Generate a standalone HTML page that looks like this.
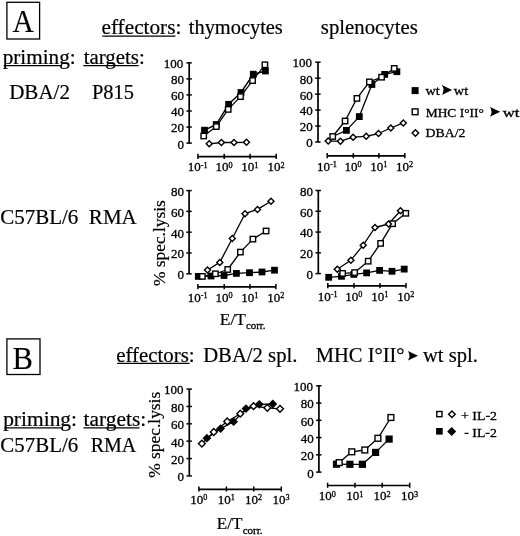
<!DOCTYPE html>
<html><head><meta charset="utf-8"><style>
html,body{margin:0;padding:0;background:#fff;overflow:hidden;}
svg{display:block;filter:blur(0.35px);}
text{font-family:"Liberation Serif", serif;fill:#000;}
.sm{stroke:#000;stroke-width:0.3px;}
.md{stroke:#000;stroke-width:0.2px;}
.lg{stroke:#000;stroke-width:0.15px;}
</style></head><body>
<svg width="520" height="536" viewBox="0 0 520 536">
<rect width="520" height="536" fill="#fff"/>
<text class="lg" x="12.50" y="31.7" font-size="30.7" textLength="21.37" lengthAdjust="spacingAndGlyphs">A</text>
<text class="lg" x="12.50" y="368.7" font-size="30.6" textLength="20.41" lengthAdjust="spacingAndGlyphs">B</text>
<text class="md" x="101.46" y="34.1" font-size="20.5" textLength="79.95" lengthAdjust="spacingAndGlyphs">effectors:</text>
<text class="md" x="188.80" y="33.9" font-size="20.5" textLength="94.01" lengthAdjust="spacingAndGlyphs">thymocytes</text>
<text class="md" x="320.89" y="33.9" font-size="20.5" textLength="96.88" lengthAdjust="spacingAndGlyphs">splenocytes</text>
<text class="md" x="2.67" y="64.0" font-size="20.5" textLength="73.00" lengthAdjust="spacingAndGlyphs">priming:</text>
<text class="md" x="83.70" y="64.0" font-size="20.5" textLength="61.11" lengthAdjust="spacingAndGlyphs">targets:</text>
<text class="md" x="9.17" y="98.8" font-size="20.5" textLength="60.79" lengthAdjust="spacingAndGlyphs">DBA/2</text>
<text class="md" x="91.90" y="98.8" font-size="20.5" textLength="42.05" lengthAdjust="spacingAndGlyphs">P815</text>
<text class="md" x="0.28" y="224.4" font-size="20.5" textLength="78.06" lengthAdjust="spacingAndGlyphs">C57BL/6</text>
<text class="md" x="88.88" y="224.4" font-size="20.5" textLength="47.86" lengthAdjust="spacingAndGlyphs">RMA</text>
<text class="md" x="116.18" y="361.7" font-size="20.5" textLength="78.38" lengthAdjust="spacingAndGlyphs">effectors:</text>
<text class="md" x="203.19" y="361.9" font-size="20.5" textLength="94.23" lengthAdjust="spacingAndGlyphs">DBA/2 spl.</text>
<text class="md" x="315.80" y="361.9" font-size="20.5" textLength="88.72" lengthAdjust="spacingAndGlyphs">MHC I°II°</text>
<text class="md" x="423.00" y="361.9" font-size="20.5" textLength="54.89" lengthAdjust="spacingAndGlyphs">wt spl.</text>
<text class="md" x="3.15" y="426.0" font-size="20.5" textLength="73.93" lengthAdjust="spacingAndGlyphs">priming:</text>
<text class="md" x="83.60" y="426.0" font-size="20.5" textLength="62.66" lengthAdjust="spacingAndGlyphs">targets:</text>
<text class="md" x="0.38" y="451.7" font-size="20.5" textLength="77.85" lengthAdjust="spacingAndGlyphs">C57BL/6</text>
<text class="md" x="90.72" y="451.7" font-size="20.5" textLength="45.58" lengthAdjust="spacingAndGlyphs">RMA</text>
<text class="sm" x="425.54" y="94.6" font-size="13.5" textLength="14.29" lengthAdjust="spacingAndGlyphs">wt</text>
<text class="sm" x="453.84" y="94.6" font-size="13.5" textLength="14.29" lengthAdjust="spacingAndGlyphs">wt</text>
<text class="sm" x="425.70" y="116.8" font-size="13.5" textLength="58.22" lengthAdjust="spacingAndGlyphs">MHC I°II°</text>
<text class="sm" x="502.66" y="116.8" font-size="13.5" textLength="16.76" lengthAdjust="spacingAndGlyphs">wt</text>
<text class="sm" x="425.58" y="137.1" font-size="13.5" textLength="39.86" lengthAdjust="spacingAndGlyphs">DBA/2</text>
<text class="sm" x="460.97" y="419.8" font-size="13.5" textLength="36.04" lengthAdjust="spacingAndGlyphs">+ IL-2</text>
<text class="sm" x="464.28" y="437.4" font-size="13.5" textLength="32.60" lengthAdjust="spacingAndGlyphs">- IL-2</text>
<text class="md" x="219.80" y="324.7" font-size="17.5" textLength="26.14" lengthAdjust="spacingAndGlyphs">E/T</text>
<text class="sm" x="245.90" y="329.2" font-size="11" textLength="19.65" lengthAdjust="spacingAndGlyphs">corr.</text>
<text class="md" x="216.82" y="529.0" font-size="17.5" textLength="25.62" lengthAdjust="spacingAndGlyphs">E/T</text>
<text class="sm" x="242.70" y="533.8" font-size="11" textLength="19.86" lengthAdjust="spacingAndGlyphs">corr.</text>
<text class="md" transform="translate(165.0,286.09) rotate(-90)" x="0" y="0" font-size="17.5" textLength="85.92" lengthAdjust="spacingAndGlyphs">% spec.lysis</text>
<text class="md" transform="translate(160.3,477.79) rotate(-90)" x="0" y="0" font-size="17.5" textLength="86.02" lengthAdjust="spacingAndGlyphs">% spec.lysis</text>
<line x1="102.30" y1="36.10" x2="175.40" y2="36.10" stroke="#000" stroke-width="1.2"/>
<line x1="3.70" y1="65.60" x2="62.00" y2="65.60" stroke="#000" stroke-width="1.2"/>
<line x1="83.30" y1="65.60" x2="138.70" y2="65.60" stroke="#000" stroke-width="1.2"/>
<line x1="117.20" y1="363.40" x2="189.50" y2="363.40" stroke="#000" stroke-width="1.2"/>
<line x1="4.20" y1="427.80" x2="63.00" y2="427.80" stroke="#000" stroke-width="1.2"/>
<line x1="83.50" y1="427.80" x2="139.50" y2="427.80" stroke="#000" stroke-width="1.2"/>
<rect x="6.9" y="2.3" width="32.70" height="36.70" fill="none" stroke="#000" stroke-width="1.3"/>
<rect x="6.9" y="338.9" width="33.10" height="35.60" fill="none" stroke="#000" stroke-width="1.3"/>
<path d="M407.90,350.90 L418.00,355.75 L407.90,360.60 Q411.13,355.75 407.90,350.90 Z" fill="#000"/>
<path d="M441.80,85.00 L452.10,90.00 L441.80,95.00 Q445.10,90.00 441.80,85.00 Z" fill="#000"/>
<path d="M489.90,106.90 L500.30,111.80 L489.90,116.70 Q493.23,111.80 489.90,106.90 Z" fill="#000"/>
<line x1="189.20" y1="62.85" x2="189.20" y2="143.10" stroke="#000" stroke-width="1.7"/>
<line x1="186.40" y1="143.10" x2="191.80" y2="143.10" stroke="#000" stroke-width="1.5"/>
<text class="sm" x="184.00" y="148.50" font-size="13" text-anchor="end">0</text>
<line x1="186.40" y1="127.05" x2="191.80" y2="127.05" stroke="#000" stroke-width="1.5"/>
<text class="sm" x="184.00" y="132.45" font-size="13" text-anchor="end">20</text>
<line x1="186.40" y1="111.00" x2="191.80" y2="111.00" stroke="#000" stroke-width="1.5"/>
<text class="sm" x="184.00" y="116.40" font-size="13" text-anchor="end">40</text>
<line x1="186.40" y1="94.95" x2="191.80" y2="94.95" stroke="#000" stroke-width="1.5"/>
<text class="sm" x="184.00" y="100.35" font-size="13" text-anchor="end">60</text>
<line x1="186.40" y1="78.90" x2="191.80" y2="78.90" stroke="#000" stroke-width="1.5"/>
<text class="sm" x="184.00" y="84.30" font-size="13" text-anchor="end">80</text>
<line x1="186.40" y1="62.85" x2="191.80" y2="62.85" stroke="#000" stroke-width="1.5"/>
<text class="sm" x="183.30" y="67.75" font-size="13" text-anchor="end">100</text>
<line x1="197.90" y1="156.60" x2="276.20" y2="156.60" stroke="#000" stroke-width="1.7"/>
<line x1="197.90" y1="153.80" x2="197.90" y2="158.90" stroke="#000" stroke-width="1.5"/>
<text class="sm" x="197.70" y="171.40" font-size="13" text-anchor="middle">10<tspan font-size="8.2" dy="-3.8">-1</tspan></text>
<line x1="224.20" y1="153.80" x2="224.20" y2="158.90" stroke="#000" stroke-width="1.5"/>
<text class="sm" x="224.00" y="171.40" font-size="13" text-anchor="middle">10<tspan font-size="8.2" dy="-3.8">0</tspan></text>
<line x1="250.10" y1="153.80" x2="250.10" y2="158.90" stroke="#000" stroke-width="1.5"/>
<text class="sm" x="249.90" y="171.40" font-size="13" text-anchor="middle">10<tspan font-size="8.2" dy="-3.8">1</tspan></text>
<line x1="276.20" y1="153.80" x2="276.20" y2="158.90" stroke="#000" stroke-width="1.5"/>
<text class="sm" x="276.00" y="171.40" font-size="13" text-anchor="middle">10<tspan font-size="8.2" dy="-3.8">2</tspan></text>
<path d="M204.5,130.2 L216.3,124.5 L228.6,104.3 L241,92.5 L253.3,74.2 L265.4,71" fill="none" stroke="#000" stroke-width="1.4" stroke-linejoin="round"/>
<path d="M203.7,136 L216.3,126.6 L228.2,109.4 L240.5,96.6 L252.6,80.6 L264.9,64.8" fill="none" stroke="#000" stroke-width="1.2" stroke-linejoin="round"/>
<path d="M209.2,143.8 L221.4,142.5 L234,142.5 L246.5,142.3" fill="none" stroke="#000" stroke-width="1.3" stroke-linejoin="round"/>
<rect x="201.10" y="126.80" width="6.8" height="6.8" fill="#000"/>
<rect x="212.90" y="121.10" width="6.8" height="6.8" fill="#000"/>
<rect x="225.20" y="100.90" width="6.8" height="6.8" fill="#000"/>
<rect x="237.60" y="89.10" width="6.8" height="6.8" fill="#000"/>
<rect x="249.90" y="70.80" width="6.8" height="6.8" fill="#000"/>
<rect x="262.00" y="67.60" width="6.8" height="6.8" fill="#000"/>
<rect x="201.00" y="133.30" width="5.40" height="5.40" fill="#fff" stroke="#000" stroke-width="1.4"/>
<rect x="213.60" y="123.90" width="5.40" height="5.40" fill="#fff" stroke="#000" stroke-width="1.4"/>
<rect x="225.50" y="106.70" width="5.40" height="5.40" fill="#fff" stroke="#000" stroke-width="1.4"/>
<rect x="237.80" y="93.90" width="5.40" height="5.40" fill="#fff" stroke="#000" stroke-width="1.4"/>
<rect x="249.90" y="77.90" width="5.40" height="5.40" fill="#fff" stroke="#000" stroke-width="1.4"/>
<rect x="262.20" y="62.10" width="5.40" height="5.40" fill="#fff" stroke="#000" stroke-width="1.4"/>
<path d="M209.20,140.79 L212.21,143.80 L209.20,146.81 L206.19,143.80 Z" fill="#fff" stroke="#000" stroke-width="1.4"/>
<path d="M221.40,139.49 L224.41,142.50 L221.40,145.51 L218.39,142.50 Z" fill="#fff" stroke="#000" stroke-width="1.4"/>
<path d="M234.00,139.49 L237.01,142.50 L234.00,145.51 L230.99,142.50 Z" fill="#fff" stroke="#000" stroke-width="1.4"/>
<path d="M246.50,139.29 L249.51,142.30 L246.50,145.31 L243.49,142.30 Z" fill="#fff" stroke="#000" stroke-width="1.4"/>
<line x1="318.00" y1="62.20" x2="318.00" y2="142.00" stroke="#000" stroke-width="1.7"/>
<line x1="315.20" y1="142.00" x2="320.60" y2="142.00" stroke="#000" stroke-width="1.5"/>
<text class="sm" x="312.80" y="147.40" font-size="13" text-anchor="end">0</text>
<line x1="315.20" y1="126.04" x2="320.60" y2="126.04" stroke="#000" stroke-width="1.5"/>
<text class="sm" x="312.80" y="131.44" font-size="13" text-anchor="end">20</text>
<line x1="315.20" y1="110.08" x2="320.60" y2="110.08" stroke="#000" stroke-width="1.5"/>
<text class="sm" x="312.80" y="115.48" font-size="13" text-anchor="end">40</text>
<line x1="315.20" y1="94.12" x2="320.60" y2="94.12" stroke="#000" stroke-width="1.5"/>
<text class="sm" x="312.80" y="99.52" font-size="13" text-anchor="end">60</text>
<line x1="315.20" y1="78.16" x2="320.60" y2="78.16" stroke="#000" stroke-width="1.5"/>
<text class="sm" x="312.80" y="83.56" font-size="13" text-anchor="end">80</text>
<line x1="315.20" y1="62.20" x2="320.60" y2="62.20" stroke="#000" stroke-width="1.5"/>
<text class="sm" x="312.10" y="67.10" font-size="13" text-anchor="end">100</text>
<line x1="327.20" y1="155.90" x2="404.80" y2="155.90" stroke="#000" stroke-width="1.7"/>
<line x1="327.20" y1="153.10" x2="327.20" y2="158.20" stroke="#000" stroke-width="1.5"/>
<text class="sm" x="327.00" y="170.70" font-size="13" text-anchor="middle">10<tspan font-size="8.2" dy="-3.8">-1</tspan></text>
<line x1="353.30" y1="153.10" x2="353.30" y2="158.20" stroke="#000" stroke-width="1.5"/>
<text class="sm" x="353.10" y="170.70" font-size="13" text-anchor="middle">10<tspan font-size="8.2" dy="-3.8">0</tspan></text>
<line x1="378.90" y1="153.10" x2="378.90" y2="158.20" stroke="#000" stroke-width="1.5"/>
<text class="sm" x="378.70" y="170.70" font-size="13" text-anchor="middle">10<tspan font-size="8.2" dy="-3.8">1</tspan></text>
<line x1="404.80" y1="153.10" x2="404.80" y2="158.20" stroke="#000" stroke-width="1.5"/>
<text class="sm" x="404.60" y="170.70" font-size="13" text-anchor="middle">10<tspan font-size="8.2" dy="-3.8">2</tspan></text>
<path d="M332.7,136.5 L346.4,130.4 L359.3,116.6 L371.9,84.5 L384.7,74.4 L396.9,71.7" fill="none" stroke="#000" stroke-width="1.3" stroke-linejoin="round"/>
<path d="M332.7,136.5 L345.1,121 L356.9,98.4 L369.4,81.9 L381.6,77.2 L394.2,68.4" fill="none" stroke="#000" stroke-width="1.3" stroke-linejoin="round"/>
<path d="M328.2,141.1 L340.4,141.2 L353.1,137.2 L366.2,136.3 L378.5,133.5 L390.8,128 L403.3,122.9" fill="none" stroke="#000" stroke-width="1.3" stroke-linejoin="round"/>
<rect x="343.00" y="127.00" width="6.8" height="6.8" fill="#000"/>
<rect x="355.90" y="113.20" width="6.8" height="6.8" fill="#000"/>
<rect x="368.50" y="81.10" width="6.8" height="6.8" fill="#000"/>
<rect x="381.30" y="71.00" width="6.8" height="6.8" fill="#000"/>
<rect x="393.50" y="68.30" width="6.8" height="6.8" fill="#000"/>
<rect x="330.00" y="133.80" width="5.40" height="5.40" fill="#fff" stroke="#000" stroke-width="1.4"/>
<rect x="342.40" y="118.30" width="5.40" height="5.40" fill="#fff" stroke="#000" stroke-width="1.4"/>
<rect x="354.20" y="95.70" width="5.40" height="5.40" fill="#fff" stroke="#000" stroke-width="1.4"/>
<rect x="366.70" y="79.20" width="5.40" height="5.40" fill="#fff" stroke="#000" stroke-width="1.4"/>
<rect x="378.90" y="74.50" width="5.40" height="5.40" fill="#fff" stroke="#000" stroke-width="1.4"/>
<rect x="391.50" y="65.70" width="5.40" height="5.40" fill="#fff" stroke="#000" stroke-width="1.4"/>
<path d="M328.20,138.09 L331.21,141.10 L328.20,144.11 L325.19,141.10 Z" fill="#fff" stroke="#000" stroke-width="1.4"/>
<path d="M340.40,138.19 L343.41,141.20 L340.40,144.21 L337.39,141.20 Z" fill="#fff" stroke="#000" stroke-width="1.4"/>
<path d="M353.10,134.19 L356.11,137.20 L353.10,140.21 L350.09,137.20 Z" fill="#fff" stroke="#000" stroke-width="1.4"/>
<path d="M366.20,133.29 L369.21,136.30 L366.20,139.31 L363.19,136.30 Z" fill="#fff" stroke="#000" stroke-width="1.4"/>
<path d="M378.50,130.49 L381.51,133.50 L378.50,136.51 L375.49,133.50 Z" fill="#fff" stroke="#000" stroke-width="1.4"/>
<path d="M390.80,124.99 L393.81,128.00 L390.80,131.01 L387.79,128.00 Z" fill="#fff" stroke="#000" stroke-width="1.4"/>
<path d="M403.30,119.89 L406.31,122.90 L403.30,125.91 L400.29,122.90 Z" fill="#fff" stroke="#000" stroke-width="1.4"/>
<rect x="411.60" y="87.10" width="7.0" height="7.0" fill="#000"/>
<rect x="412.20" y="108.90" width="5.80" height="5.80" fill="#fff" stroke="#000" stroke-width="1.4"/>
<path d="M415.40,129.69 L418.71,133.00 L415.40,136.31 L412.09,133.00 Z" fill="#fff" stroke="#000" stroke-width="1.4"/>
<line x1="189.10" y1="190.60" x2="189.10" y2="273.80" stroke="#000" stroke-width="1.7"/>
<line x1="186.30" y1="273.80" x2="191.70" y2="273.80" stroke="#000" stroke-width="1.5"/>
<text class="sm" x="183.90" y="279.20" font-size="13" text-anchor="end">0</text>
<line x1="186.30" y1="253.00" x2="191.70" y2="253.00" stroke="#000" stroke-width="1.5"/>
<text class="sm" x="183.90" y="258.40" font-size="13" text-anchor="end">20</text>
<line x1="186.30" y1="232.20" x2="191.70" y2="232.20" stroke="#000" stroke-width="1.5"/>
<text class="sm" x="183.90" y="237.60" font-size="13" text-anchor="end">40</text>
<line x1="186.30" y1="211.40" x2="191.70" y2="211.40" stroke="#000" stroke-width="1.5"/>
<text class="sm" x="183.90" y="216.80" font-size="13" text-anchor="end">60</text>
<line x1="186.30" y1="190.60" x2="191.70" y2="190.60" stroke="#000" stroke-width="1.5"/>
<text class="sm" x="183.90" y="196.00" font-size="13" text-anchor="end">80</text>
<line x1="197.90" y1="286.90" x2="275.90" y2="286.90" stroke="#000" stroke-width="1.7"/>
<line x1="197.90" y1="284.10" x2="197.90" y2="289.20" stroke="#000" stroke-width="1.5"/>
<text class="sm" x="197.70" y="301.70" font-size="13" text-anchor="middle">10<tspan font-size="8.2" dy="-3.8">-1</tspan></text>
<line x1="224.20" y1="284.10" x2="224.20" y2="289.20" stroke="#000" stroke-width="1.5"/>
<text class="sm" x="224.00" y="301.70" font-size="13" text-anchor="middle">10<tspan font-size="8.2" dy="-3.8">0</tspan></text>
<line x1="250.00" y1="284.10" x2="250.00" y2="289.20" stroke="#000" stroke-width="1.5"/>
<text class="sm" x="249.80" y="301.70" font-size="13" text-anchor="middle">10<tspan font-size="8.2" dy="-3.8">1</tspan></text>
<line x1="275.90" y1="284.10" x2="275.90" y2="289.20" stroke="#000" stroke-width="1.5"/>
<text class="sm" x="275.70" y="301.70" font-size="13" text-anchor="middle">10<tspan font-size="8.2" dy="-3.8">2</tspan></text>
<path d="M207.5,270 L219.8,262.4 L232.3,238.5 L245,213.7 L257.5,209.4 L271,201.3" fill="none" stroke="#000" stroke-width="1.3" stroke-linejoin="round"/>
<path d="M202.4,276.4 L215.4,273.8 L227.7,269.5 L240.4,252.1 L252.9,239.1 L266.1,231" fill="none" stroke="#000" stroke-width="1.3" stroke-linejoin="round"/>
<path d="M198.3,276.4 L211,276 L224,275.5 L236.4,273.4 L249.5,272.7 L262,272 L274.5,270.2" fill="none" stroke="#000" stroke-width="1.3" stroke-linejoin="round"/>
<rect x="194.90" y="273.00" width="6.8" height="6.8" fill="#000"/>
<rect x="207.60" y="272.60" width="6.8" height="6.8" fill="#000"/>
<rect x="220.60" y="272.10" width="6.8" height="6.8" fill="#000"/>
<rect x="233.00" y="270.00" width="6.8" height="6.8" fill="#000"/>
<rect x="246.10" y="269.30" width="6.8" height="6.8" fill="#000"/>
<rect x="258.60" y="268.60" width="6.8" height="6.8" fill="#000"/>
<rect x="271.10" y="266.80" width="6.8" height="6.8" fill="#000"/>
<rect x="199.70" y="273.70" width="5.40" height="5.40" fill="#fff" stroke="#000" stroke-width="1.4"/>
<rect x="212.70" y="271.10" width="5.40" height="5.40" fill="#fff" stroke="#000" stroke-width="1.4"/>
<rect x="225.00" y="266.80" width="5.40" height="5.40" fill="#fff" stroke="#000" stroke-width="1.4"/>
<rect x="237.70" y="249.40" width="5.40" height="5.40" fill="#fff" stroke="#000" stroke-width="1.4"/>
<rect x="250.20" y="236.40" width="5.40" height="5.40" fill="#fff" stroke="#000" stroke-width="1.4"/>
<rect x="263.40" y="228.30" width="5.40" height="5.40" fill="#fff" stroke="#000" stroke-width="1.4"/>
<path d="M207.50,266.99 L210.51,270.00 L207.50,273.01 L204.49,270.00 Z" fill="#fff" stroke="#000" stroke-width="1.4"/>
<path d="M219.80,259.39 L222.81,262.40 L219.80,265.41 L216.79,262.40 Z" fill="#fff" stroke="#000" stroke-width="1.4"/>
<path d="M232.30,235.49 L235.31,238.50 L232.30,241.51 L229.29,238.50 Z" fill="#fff" stroke="#000" stroke-width="1.4"/>
<path d="M245.00,210.69 L248.01,213.70 L245.00,216.71 L241.99,213.70 Z" fill="#fff" stroke="#000" stroke-width="1.4"/>
<path d="M257.50,206.39 L260.51,209.40 L257.50,212.41 L254.49,209.40 Z" fill="#fff" stroke="#000" stroke-width="1.4"/>
<path d="M271.00,198.29 L274.01,201.30 L271.00,204.31 L267.99,201.30 Z" fill="#fff" stroke="#000" stroke-width="1.4"/>
<line x1="318.30" y1="190.50" x2="318.30" y2="273.60" stroke="#000" stroke-width="1.7"/>
<line x1="315.50" y1="273.60" x2="320.90" y2="273.60" stroke="#000" stroke-width="1.5"/>
<text class="sm" x="313.10" y="279.00" font-size="13" text-anchor="end">0</text>
<line x1="315.50" y1="252.83" x2="320.90" y2="252.83" stroke="#000" stroke-width="1.5"/>
<text class="sm" x="313.10" y="258.23" font-size="13" text-anchor="end">20</text>
<line x1="315.50" y1="232.05" x2="320.90" y2="232.05" stroke="#000" stroke-width="1.5"/>
<text class="sm" x="313.10" y="237.45" font-size="13" text-anchor="end">40</text>
<line x1="315.50" y1="211.28" x2="320.90" y2="211.28" stroke="#000" stroke-width="1.5"/>
<text class="sm" x="313.10" y="216.67" font-size="13" text-anchor="end">60</text>
<line x1="315.50" y1="190.50" x2="320.90" y2="190.50" stroke="#000" stroke-width="1.5"/>
<text class="sm" x="313.10" y="195.90" font-size="13" text-anchor="end">80</text>
<line x1="327.80" y1="285.90" x2="406.00" y2="285.90" stroke="#000" stroke-width="1.7"/>
<line x1="327.80" y1="283.10" x2="327.80" y2="288.20" stroke="#000" stroke-width="1.5"/>
<text class="sm" x="327.60" y="300.70" font-size="13" text-anchor="middle">10<tspan font-size="8.2" dy="-3.8">-1</tspan></text>
<line x1="354.00" y1="283.10" x2="354.00" y2="288.20" stroke="#000" stroke-width="1.5"/>
<text class="sm" x="353.80" y="300.70" font-size="13" text-anchor="middle">10<tspan font-size="8.2" dy="-3.8">0</tspan></text>
<line x1="380.00" y1="283.10" x2="380.00" y2="288.20" stroke="#000" stroke-width="1.5"/>
<text class="sm" x="379.80" y="300.70" font-size="13" text-anchor="middle">10<tspan font-size="8.2" dy="-3.8">1</tspan></text>
<line x1="406.00" y1="283.10" x2="406.00" y2="288.20" stroke="#000" stroke-width="1.5"/>
<text class="sm" x="405.80" y="300.70" font-size="13" text-anchor="middle">10<tspan font-size="8.2" dy="-3.8">2</tspan></text>
<path d="M337.3,269.2 L350.9,260.2 L363.2,245.2 L375,227.5 L388.5,224 L400.5,210.7" fill="none" stroke="#000" stroke-width="1.3" stroke-linejoin="round"/>
<path d="M342.6,273.4 L354.6,272.6 L368.2,261.2 L380.6,243.4 L392.6,223.7 L405.8,213.3" fill="none" stroke="#000" stroke-width="1.3" stroke-linejoin="round"/>
<path d="M328.7,277.3 L341.5,276.3 L353.8,274.4 L366.6,272.9 L379.6,270.4 L392,271.3 L404.2,269.1" fill="none" stroke="#000" stroke-width="1.3" stroke-linejoin="round"/>
<rect x="325.30" y="273.90" width="6.8" height="6.8" fill="#000"/>
<rect x="338.10" y="272.90" width="6.8" height="6.8" fill="#000"/>
<rect x="350.40" y="271.00" width="6.8" height="6.8" fill="#000"/>
<rect x="363.20" y="269.50" width="6.8" height="6.8" fill="#000"/>
<rect x="376.20" y="267.00" width="6.8" height="6.8" fill="#000"/>
<rect x="388.60" y="267.90" width="6.8" height="6.8" fill="#000"/>
<rect x="400.80" y="265.70" width="6.8" height="6.8" fill="#000"/>
<rect x="339.90" y="270.70" width="5.40" height="5.40" fill="#fff" stroke="#000" stroke-width="1.4"/>
<rect x="351.90" y="269.90" width="5.40" height="5.40" fill="#fff" stroke="#000" stroke-width="1.4"/>
<rect x="365.50" y="258.50" width="5.40" height="5.40" fill="#fff" stroke="#000" stroke-width="1.4"/>
<rect x="377.90" y="240.70" width="5.40" height="5.40" fill="#fff" stroke="#000" stroke-width="1.4"/>
<rect x="389.90" y="221.00" width="5.40" height="5.40" fill="#fff" stroke="#000" stroke-width="1.4"/>
<rect x="403.10" y="210.60" width="5.40" height="5.40" fill="#fff" stroke="#000" stroke-width="1.4"/>
<path d="M337.30,266.19 L340.31,269.20 L337.30,272.21 L334.29,269.20 Z" fill="#fff" stroke="#000" stroke-width="1.4"/>
<path d="M350.90,257.19 L353.91,260.20 L350.90,263.21 L347.89,260.20 Z" fill="#fff" stroke="#000" stroke-width="1.4"/>
<path d="M363.20,242.19 L366.21,245.20 L363.20,248.21 L360.19,245.20 Z" fill="#fff" stroke="#000" stroke-width="1.4"/>
<path d="M375.00,224.49 L378.01,227.50 L375.00,230.51 L371.99,227.50 Z" fill="#fff" stroke="#000" stroke-width="1.4"/>
<path d="M388.50,220.99 L391.51,224.00 L388.50,227.01 L385.49,224.00 Z" fill="#fff" stroke="#000" stroke-width="1.4"/>
<path d="M400.50,207.69 L403.51,210.70 L400.50,213.71 L397.49,210.70 Z" fill="#fff" stroke="#000" stroke-width="1.4"/>
<line x1="189.30" y1="389.10" x2="189.30" y2="475.90" stroke="#000" stroke-width="1.7"/>
<line x1="186.50" y1="475.90" x2="191.90" y2="475.90" stroke="#000" stroke-width="1.5"/>
<text class="sm" x="184.10" y="481.30" font-size="13" text-anchor="end">0</text>
<line x1="186.50" y1="458.54" x2="191.90" y2="458.54" stroke="#000" stroke-width="1.5"/>
<text class="sm" x="184.10" y="463.94" font-size="13" text-anchor="end">20</text>
<line x1="186.50" y1="441.18" x2="191.90" y2="441.18" stroke="#000" stroke-width="1.5"/>
<text class="sm" x="184.10" y="446.58" font-size="13" text-anchor="end">40</text>
<line x1="186.50" y1="423.82" x2="191.90" y2="423.82" stroke="#000" stroke-width="1.5"/>
<text class="sm" x="184.10" y="429.22" font-size="13" text-anchor="end">60</text>
<line x1="186.50" y1="406.46" x2="191.90" y2="406.46" stroke="#000" stroke-width="1.5"/>
<text class="sm" x="184.10" y="411.86" font-size="13" text-anchor="end">80</text>
<line x1="186.50" y1="389.10" x2="191.90" y2="389.10" stroke="#000" stroke-width="1.5"/>
<text class="sm" x="183.40" y="394.00" font-size="13" text-anchor="end">100</text>
<line x1="198.90" y1="489.30" x2="281.30" y2="489.30" stroke="#000" stroke-width="1.7"/>
<line x1="198.90" y1="486.50" x2="198.90" y2="491.60" stroke="#000" stroke-width="1.5"/>
<text class="sm" x="198.70" y="504.10" font-size="13" text-anchor="middle">10<tspan font-size="8.2" dy="-3.8">0</tspan></text>
<line x1="226.40" y1="486.50" x2="226.40" y2="491.60" stroke="#000" stroke-width="1.5"/>
<text class="sm" x="226.20" y="504.10" font-size="13" text-anchor="middle">10<tspan font-size="8.2" dy="-3.8">1</tspan></text>
<line x1="253.80" y1="486.50" x2="253.80" y2="491.60" stroke="#000" stroke-width="1.5"/>
<text class="sm" x="253.60" y="504.10" font-size="13" text-anchor="middle">10<tspan font-size="8.2" dy="-3.8">2</tspan></text>
<line x1="281.30" y1="486.50" x2="281.30" y2="491.60" stroke="#000" stroke-width="1.5"/>
<text class="sm" x="281.10" y="504.10" font-size="13" text-anchor="middle">10<tspan font-size="8.2" dy="-3.8">3</tspan></text>
<path d="M201.9,443.6 L213.8,432 L227.2,421.5 L240.3,413.7 L253.5,406.2 L267.3,407.8 L280,408.8" fill="none" stroke="#000" stroke-width="1.3" stroke-linejoin="round"/>
<path d="M206.9,438.2 L220.6,428.6 L233.6,421.7 L246,408.6 L259.3,404.3 L272.8,404" fill="none" stroke="#000" stroke-width="1.3" stroke-linejoin="round"/>
<path d="M206.90,433.80 L211.30,438.20 L206.90,442.60 L202.50,438.20 Z" fill="#000"/>
<path d="M220.60,424.20 L225.00,428.60 L220.60,433.00 L216.20,428.60 Z" fill="#000"/>
<path d="M233.60,417.30 L238.00,421.70 L233.60,426.10 L229.20,421.70 Z" fill="#000"/>
<path d="M246.00,404.20 L250.40,408.60 L246.00,413.00 L241.60,408.60 Z" fill="#000"/>
<path d="M259.30,399.90 L263.70,404.30 L259.30,408.70 L254.90,404.30 Z" fill="#000"/>
<path d="M272.80,399.60 L277.20,404.00 L272.80,408.40 L268.40,404.00 Z" fill="#000"/>
<path d="M201.90,440.19 L205.31,443.60 L201.90,447.01 L198.49,443.60 Z" fill="#fff" stroke="#000" stroke-width="1.4"/>
<path d="M213.80,428.59 L217.21,432.00 L213.80,435.41 L210.39,432.00 Z" fill="#fff" stroke="#000" stroke-width="1.4"/>
<path d="M227.20,418.09 L230.61,421.50 L227.20,424.91 L223.79,421.50 Z" fill="#fff" stroke="#000" stroke-width="1.4"/>
<path d="M240.30,410.29 L243.71,413.70 L240.30,417.11 L236.89,413.70 Z" fill="#fff" stroke="#000" stroke-width="1.4"/>
<path d="M253.50,402.79 L256.91,406.20 L253.50,409.61 L250.09,406.20 Z" fill="#fff" stroke="#000" stroke-width="1.4"/>
<path d="M267.30,404.39 L270.71,407.80 L267.30,411.21 L263.89,407.80 Z" fill="#fff" stroke="#000" stroke-width="1.4"/>
<path d="M280.00,405.39 L283.41,408.80 L280.00,412.21 L276.59,408.80 Z" fill="#fff" stroke="#000" stroke-width="1.4"/>
<line x1="318.90" y1="385.80" x2="318.90" y2="472.10" stroke="#000" stroke-width="1.7"/>
<line x1="316.10" y1="472.10" x2="321.50" y2="472.10" stroke="#000" stroke-width="1.5"/>
<text class="sm" x="313.70" y="477.50" font-size="13" text-anchor="end">0</text>
<line x1="316.10" y1="454.84" x2="321.50" y2="454.84" stroke="#000" stroke-width="1.5"/>
<text class="sm" x="313.70" y="460.24" font-size="13" text-anchor="end">20</text>
<line x1="316.10" y1="437.58" x2="321.50" y2="437.58" stroke="#000" stroke-width="1.5"/>
<text class="sm" x="313.70" y="442.98" font-size="13" text-anchor="end">40</text>
<line x1="316.10" y1="420.32" x2="321.50" y2="420.32" stroke="#000" stroke-width="1.5"/>
<text class="sm" x="313.70" y="425.72" font-size="13" text-anchor="end">60</text>
<line x1="316.10" y1="403.06" x2="321.50" y2="403.06" stroke="#000" stroke-width="1.5"/>
<text class="sm" x="313.70" y="408.46" font-size="13" text-anchor="end">80</text>
<line x1="316.10" y1="385.80" x2="321.50" y2="385.80" stroke="#000" stroke-width="1.5"/>
<text class="sm" x="313.00" y="390.70" font-size="13" text-anchor="end">100</text>
<line x1="327.60" y1="485.50" x2="409.70" y2="485.50" stroke="#000" stroke-width="1.7"/>
<line x1="327.60" y1="482.70" x2="327.60" y2="487.80" stroke="#000" stroke-width="1.5"/>
<text class="sm" x="327.40" y="500.30" font-size="13" text-anchor="middle">10<tspan font-size="8.2" dy="-3.8">0</tspan></text>
<line x1="355.00" y1="482.70" x2="355.00" y2="487.80" stroke="#000" stroke-width="1.5"/>
<text class="sm" x="354.80" y="500.30" font-size="13" text-anchor="middle">10<tspan font-size="8.2" dy="-3.8">1</tspan></text>
<line x1="382.20" y1="482.70" x2="382.20" y2="487.80" stroke="#000" stroke-width="1.5"/>
<text class="sm" x="382.00" y="500.30" font-size="13" text-anchor="middle">10<tspan font-size="8.2" dy="-3.8">2</tspan></text>
<line x1="409.70" y1="482.70" x2="409.70" y2="487.80" stroke="#000" stroke-width="1.5"/>
<text class="sm" x="409.50" y="500.30" font-size="13" text-anchor="middle">10<tspan font-size="8.2" dy="-3.8">3</tspan></text>
<path d="M339.2,462.6 L351.8,451.8 L364.8,450 L377.9,438.3 L390.9,417.5" fill="none" stroke="#000" stroke-width="1.3" stroke-linejoin="round"/>
<path d="M336.5,464.2 L349.9,464.3 L362.4,464.3 L375.6,452.4 L389.1,439.1" fill="none" stroke="#000" stroke-width="1.3" stroke-linejoin="round"/>
<rect x="332.90" y="460.60" width="7.2" height="7.2" fill="#000"/>
<rect x="346.30" y="460.70" width="7.2" height="7.2" fill="#000"/>
<rect x="358.80" y="460.70" width="7.2" height="7.2" fill="#000"/>
<rect x="372.00" y="448.80" width="7.2" height="7.2" fill="#000"/>
<rect x="385.50" y="435.50" width="7.2" height="7.2" fill="#000"/>
<rect x="336.30" y="459.70" width="5.80" height="5.80" fill="#fff" stroke="#000" stroke-width="1.4"/>
<rect x="348.90" y="448.90" width="5.80" height="5.80" fill="#fff" stroke="#000" stroke-width="1.4"/>
<rect x="361.90" y="447.10" width="5.80" height="5.80" fill="#fff" stroke="#000" stroke-width="1.4"/>
<rect x="375.00" y="435.40" width="5.80" height="5.80" fill="#fff" stroke="#000" stroke-width="1.4"/>
<rect x="388.00" y="414.60" width="5.80" height="5.80" fill="#fff" stroke="#000" stroke-width="1.4"/>
<rect x="436.80" y="411.50" width="5.20" height="5.20" fill="#fff" stroke="#000" stroke-width="1.4"/>
<path d="M451.90,410.89 L455.21,414.20 L451.90,417.51 L448.59,414.20 Z" fill="#fff" stroke="#000" stroke-width="1.4"/>
<rect x="436.10" y="428.00" width="6.6" height="6.6" fill="#000"/>
<path d="M451.70,427.00 L456.20,431.50 L451.70,436.00 L447.20,431.50 Z" fill="#000"/>
</svg></body></html>
